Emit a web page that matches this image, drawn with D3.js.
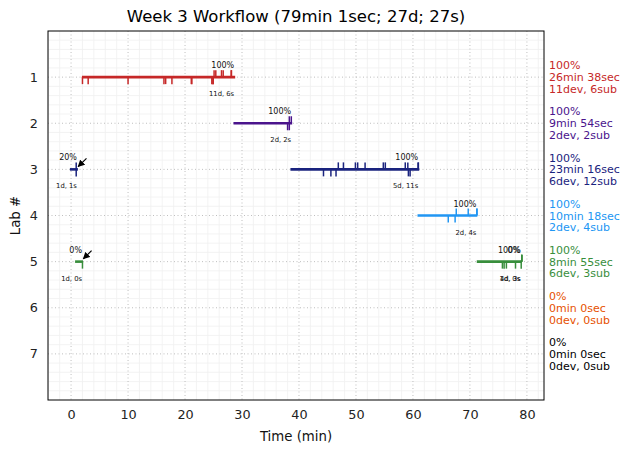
<!DOCTYPE html>
<html>
<head>
<meta charset="utf-8">
<script src="https://cdn.jsdelivr.net/npm/d3@7"></script>
<style>
  body { margin: 0; background: #fff; }
  svg { font-family: "DejaVu Sans", sans-serif; }
</style>
</head>
<body>
<div id="chart"></div>
<script>
const title = "Week 3 Workflow (79min 1sec; 27d; 27s)";
const labs = [1, 2, 3, 4, 5, 6, 7];
const labColors = ["#c62828", "#4a148c", "#1a237e", "#2196f3", "#388e3c", "#e65100", "#000000"];
const labSummary = [
  ["100%", "26min 38sec", "11dev, 6sub"],
  ["100%", "9min 54sec", "2dev, 2sub"],
  ["100%", "23min 16sec", "6dev, 12sub"],
  ["100%", "10min 18sec", "2dev, 4sub"],
  ["100%", "8min 55sec", "6dev, 3sub"],
  ["0%", "0min 0sec", "0dev, 0sub"],
  ["0%", "0min 0sec", "0dev, 0sub"],
];
const xTicks = [0, 10, 20, 30, 40, 50, 60, 70, 80];

// one entry per work session
const sessionLab = [1, 2, 3, 3, 4, 5, 5, 5];
const sessionStart = [1.9, 28.5, -0.2, 38.5, 60.8, 0.7, 71.2, 78.9];
const sessionEnd = [28.8, 38.8, 1.2, 61.1, 71.3, 2.1, 79.1, 79.0];
const sessionPct = ["100%", "100%", "20%", "100%", "100%", "0%", "100%", "0%"];
const sessionCount = ["11d, 6s", "2d, 2s", "1d, 1s", "5d, 11s", "2d, 4s", "1d, 0s", "4d, 3s", "1d, 0s"];
const sessionArrow = [false, false, true, false, false, true, false, false];
const sessionDevs = [
  [2.0, 3.0, 10.0, 16.3, 16.6, 17.7, 21.1, 21.2, 24.7, 24.9, 24.95],
  [38.0, 38.3],
  [0.9],
  [44.3, 45.6, 46.5, 59.2, 59.5],
  [66.2, 67.4],
  [2.0],
  [75.7, 76.0, 76.4, 78.0],
  [79.0],
];
const sessionSubs = [
  [25.1, 25.4, 26.4, 26.7, 28.1, 28.15],
  [38.3, 38.65],
  [0.9],
  [46.9, 47.8, 49.9, 50.3, 51.6, 54.8, 55.15, 58.65, 59.1, 60.9, 60.95],
  [67.6, 69.7, 71.2, 71.25],
  [],
  [79.1, 79.1, 79.1],
  [],
];

const W = 630, H = 453;
const margin = { top: 31, right: 86, bottom: 53, left: 48 };
const width = W - margin.left - margin.right;
const height = H - margin.top - margin.bottom;

const x = d3.scaleLinear().domain([-4.05, 83]).range([0, width]);
const y = d3.scaleLinear().domain([0, 8]).range([0, height]);

const root = d3.select("#chart").append("svg").attr("width", W).attr("height", H);
const svg = root.append("g").attr("transform", "translate(" + margin.left + "," + margin.top + ")");

// minor grid
const minorX = d3.range(-4, 84, 2).filter((v) => v % 10 !== 0);
const minorY = d3.range(0.2, 8, 0.2).filter((v) => Math.abs(v - Math.round(v)) > 0.01);
svg.append("g").selectAll("line").data(minorX).join("line")
  .attr("x1", (d) => x(d)).attr("x2", (d) => x(d)).attr("y1", 0).attr("y2", height)
  .attr("stroke", "#f0f0f0").attr("stroke-width", 0.8);
svg.append("g").selectAll("line").data(minorY).join("line")
  .attr("y1", (d) => y(d)).attr("y2", (d) => y(d)).attr("x1", 0).attr("x2", width)
  .attr("stroke", "#f0f0f0").attr("stroke-width", 0.8);

// major grid
svg.append("g").selectAll("line").data(xTicks).join("line")
  .attr("x1", (d) => x(d)).attr("x2", (d) => x(d)).attr("y1", 0).attr("y2", height)
  .attr("stroke", "#b8b8b8").attr("stroke-width", 0.9).attr("stroke-dasharray", "1,2.5");
svg.append("g").selectAll("line").data(labs).join("line")
  .attr("y1", (d) => y(d)).attr("y2", (d) => y(d)).attr("x1", 0).attr("x2", width)
  .attr("stroke", "#b8b8b8").attr("stroke-width", 0.9).attr("stroke-dasharray", "1,2.5");

// axes
const xAxis = svg.append("g").attr("transform", "translate(0," + height + ")")
  .call(d3.axisBottom(x).tickValues(xTicks).tickSize(0).tickPadding(10));
const yAxis = svg.append("g")
  .call(d3.axisLeft(y).tickValues(labs).tickSize(0).tickPadding(10));
[xAxis, yAxis].forEach((a) => {
  a.select(".domain").remove();
  a.selectAll("text").attr("font-size", 12.8).attr("fill", "#222").attr("font-family", "DejaVu Sans");
});

// arrow head marker
root.append("defs").append("marker")
  .attr("id", "head").attr("viewBox", "0 0 10 10").attr("refX", 9).attr("refY", 5)
  .attr("markerWidth", 7).attr("markerHeight", 7).attr("orient", "auto")
  .attr("markerUnits", "userSpaceOnUse")
  .append("path").attr("d", "M0,0 L10,5 L0,10 z").attr("fill", "#000");

// sessions
sessionLab.forEach((lab, i) => {
  const color = labColors[lab - 1];
  const cy = y(lab);
  const g = svg.append("g");
  g.append("line")
    .attr("x1", x(sessionStart[i])).attr("x2", x(sessionEnd[i]))
    .attr("y1", cy).attr("y2", cy)
    .attr("stroke", color).attr("stroke-width", 2.6);
  g.selectAll(".dev").data(sessionDevs[i]).join("line").attr("class", "dev")
    .attr("x1", (d) => x(d)).attr("x2", (d) => x(d)).attr("y1", cy).attr("y2", cy + 7)
    .attr("stroke", color).attr("stroke-width", 1.5);
  g.selectAll(".sub").data(sessionSubs[i]).join("line").attr("class", "sub")
    .attr("x1", (d) => x(d)).attr("x2", (d) => x(d)).attr("y1", cy).attr("y2", cy - 7)
    .attr("stroke", color).attr("stroke-width", 1.5);
  const ex = x(sessionEnd[i]) - 1;
  g.append("text").attr("x", ex).attr("y", cy - 9)
    .attr("text-anchor", "end").attr("font-size", 8).attr("fill", "#111")
    .text(sessionPct[i]);
  g.append("text").attr("x", ex).attr("y", cy + 19)
    .attr("text-anchor", "end").attr("font-size", 6.8).attr("fill", "#111")
    .text(sessionCount[i]);
  if (sessionArrow[i]) {
    g.append("line")
      .attr("x1", x(sessionEnd[i] + 1.5)).attr("y1", y(lab - 0.24))
      .attr("x2", x(sessionEnd[i] + 0.05)).attr("y2", y(lab - 0.06))
      .attr("stroke", "#000").attr("stroke-width", 1.2)
      .attr("marker-end", "url(#head)");
  }
});

// frame
svg.append("rect").attr("width", width).attr("height", height)
  .attr("fill", "none").attr("stroke", "#000").attr("stroke-width", 1);

// right-hand summaries
labs.forEach((lab, i) => {
  const t = svg.append("text")
    .attr("x", width + 5).attr("y", y(lab))
    .attr("font-size", 11).attr("fill", labColors[i]);
  labSummary[i].forEach((line, k) => {
    t.append("tspan").attr("x", width + 5).attr("y", y(lab) + (k - 1) * 11.8 + 4).text(line);
  });
});

// titles
root.append("text").attr("x", margin.left + width / 2).attr("y", 22)
  .attr("text-anchor", "middle").attr("font-size", 16.5).attr("fill", "#000").text(title);
root.append("text").attr("x", margin.left + width / 2).attr("y", 441)
  .attr("text-anchor", "middle").attr("font-size", 13.3).attr("fill", "#111").text("Time (min)");
root.append("text").attr("transform", "translate(20," + (margin.top + height / 2) + ") rotate(-90)")
  .attr("text-anchor", "middle").attr("font-size", 13.3).attr("fill", "#111").text("Lab #");
</script>
</body>
</html>
